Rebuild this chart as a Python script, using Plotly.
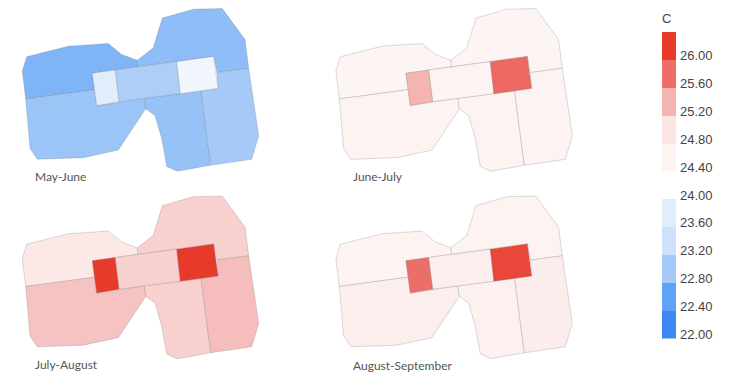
import numpy as np
import plotly.graph_objects as go

panels = ["May-June", "June-July", "July-August", "August-September"]
zones = ["NW", "NE", "SW", "S", "SE", "Corridor", "RoomA", "RoomB"]

# Estimated temperature (C) per zone and period
may_june = [22.62, 22.72, 22.82, 22.78, 22.95, 23.05, 23.76, 23.98]
june_july = [24.4, 24.4, 24.42, 24.42, 24.44, 24.44, 25.2, 25.65]
july_aug = [24.75, 24.97, 25.08, 24.97, 25.12, 24.97, 26.0, 26.0]
aug_sep = [24.45, 24.45, 24.58, 24.5, 24.6, 24.58, 25.6, 25.9]
values = [may_june, june_july, july_aug, aug_sep]

# Floor plan outlines (plan units)
NW_x = [26.7, 68.3, 108.3, 121.7, 137.3, 138, 92.3, 94.6, 25.7, 22.3]
NW_y = [57.3, 46.7, 44, 55, 61, 67.5, 74, 90.6, 100, 71.7]
NE_x = [137.3, 153.3, 162.3, 193.3, 222.3, 245, 248.7, 217, 213.7, 138]
NE_y = [61, 48.3, 18.3, 9.3, 8.7, 40, 69, 73.3, 57, 67.5]
SW_x = [25.7, 94.6, 96.7, 144.3, 145.7, 118.3, 83.3, 37.3, 30]
SW_y = [100, 90.6, 106.7, 99.3, 110, 151.7, 159.3, 161, 150]
S_x = [144.3, 201, 210.7, 177.3, 166.7, 161.7, 155, 145.7]
S_y = [99.3, 92, 167, 173, 168.3, 140, 116.7, 110]
SE_x = [201, 218, 217, 248.7, 258.7, 251.7, 210.7]
SE_y = [92, 89.3, 73.3, 69, 137.3, 161, 167]
Corridor_x = [115, 176.7, 180.3, 119]
Corridor_y = [70.7, 62.3, 94.7, 102.7]
RoomA_x = [92.3, 115, 119, 96.7]
RoomA_y = [74, 70.7, 102.7, 106.7]
RoomB_x = [176.7, 213.7, 218, 180.3]
RoomB_y = [62.3, 57, 89.3, 94.7]
plan_x = [NW_x, NE_x, SW_x, S_x, SE_x, Corridor_x, RoomA_x, RoomB_x]
plan_y = [NW_y, NE_y, SW_y, S_y, SE_y, Corridor_y, RoomA_y, RoomB_y]

# Legend
legend_bins = [22.0, 22.4, 22.8, 23.2, 23.6, 24.4, 24.8, 25.2, 25.6, 26.0]
legend_colors = ["#3d87f5", "#5ea3f7", "#a5caf9", "#cfe2fb", "#e2edfc",
                 "#fdf3f1", "#fbe6e5", "#f3b4b2", "#ec6e68", "#e83a2a"]
tick_values = [22.0, 22.4, 22.8, 23.2, 23.6, 24.0, 24.4, 24.8, 25.2, 25.6, 26.0]
tick_labels = ["%.2f" % v for v in tick_values]

stop_values = [22.0, 22.4, 22.8, 23.2, 23.6, 24.0, 24.4, 24.8, 25.2, 25.6, 26.0]
stop_colors = ["#3d87f5", "#5ea3f7", "#9ac4f7", "#b8d4fa", "#d8e7fb", "#f2f6fd",
               "#fdf5f3", "#fbe6e5", "#f3b4b2", "#ec6e68", "#e83a2a"]


def color(v):
    chans = [[int(c[i:i + 2], 16) for c in stop_colors] for i in (1, 3, 5)]
    return "rgb(%d,%d,%d)" % tuple(round(float(np.interp(v, stop_values, ch))) for ch in chans)


offsets = [(0, 0), (313.6, 0), (0, 189.5), (313.6, 189.5)]
label_pos = [(33, 178), (351, 178), (33, 368.5), (351, 369)]

fig = go.Figure()
for vals, (dx, dy), name in zip(values, offsets, panels):
    for zone, v, xs, ys in zip(zones, vals, plan_x, plan_y):
        fig.add_trace(go.Scatter(
            x=[a + dx for a in xs] + [xs[0] + dx],
            y=[b + dy for b in ys] + [ys[0] + dy],
            mode="lines", fill="toself", fillcolor=color(v),
            line=dict(color="rgba(110,110,110,0.24)", width=1),
            name=zone, text=f"{name} {zone}: {v:.2f} C", hoverinfo="text",
            showlegend=False, xaxis="x", yaxis="y"))

fig.add_trace(go.Bar(
    x=[1] * len(legend_bins), y=[0.4] * len(legend_bins), base=legend_bins,
    marker=dict(color=legend_colors, line=dict(width=0)), width=1,
    hoverinfo="skip", showlegend=False, xaxis="x2", yaxis="y2"))

for name, (x, y) in zip(panels, label_pos):
    fig.add_annotation(x=x, y=y, text=name, showarrow=False, xanchor="left", yanchor="middle",
                       xref="x", yref="y", font=dict(family="Lato", size=12, color="#555555"))
fig.add_annotation(x=660, y=19, text="C", showarrow=False, xanchor="left", yanchor="middle",
                   xref="x", yref="y", font=dict(family="Liberation Sans", size=13, color="#444444"))

fig.update_layout(
    width=730, height=384, margin=dict(l=0, r=0, t=0, b=0),
    paper_bgcolor="white", plot_bgcolor="rgba(0,0,0,0)",
    xaxis=dict(domain=[0, 1], range=[0, 730], visible=False, fixedrange=True),
    yaxis=dict(domain=[0, 1], range=[384, 0], visible=False, fixedrange=True),
    xaxis2=dict(domain=[662 / 730, 676 / 730], range=[0.5, 1.5], visible=False, fixedrange=True),
    yaxis2=dict(domain=[1 - 342 / 384, 1 - 32 / 384], range=[22.0, 26.4], anchor="x2", side="right",
                tickvals=tick_values, ticktext=tick_labels, showgrid=False, zeroline=False,
                showline=False, ticks="", ticklabelstandoff=3, ticklabelshift=-4,
                tickfont=dict(family="Liberation Sans", size=13, color="#444444"), fixedrange=True),
    bargap=0,
)
fig.write_html("out.html", post_script="document.body.style.margin='0';",
               config=dict(displayModeBar=False))
